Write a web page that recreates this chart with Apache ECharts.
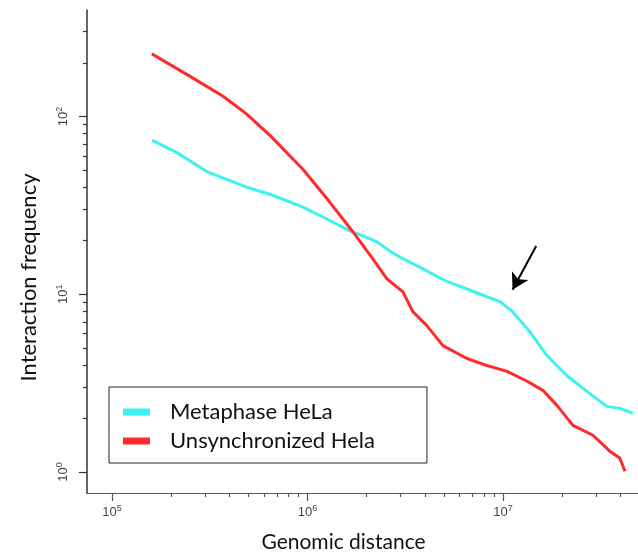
<!DOCTYPE html>
<html>
<head>
<meta charset="utf-8">
<script src="https://cdn.jsdelivr.net/npm/echarts@6/dist/echarts.min.js"></script>
<style>
html, body { margin: 0; padding: 0; background: #fff; }
#chart { width: 638px; height: 558px; }
</style>
</head>
<body>
<div id="chart"></div>
<script>
// values (genomic distance in bp, interaction frequency)
const metaDist = [1.60e5, 2.14e5, 3.10e5, 4.89e5, 6.43e5, 9.48e5, 1.20e6, 1.65e6, 1.92e6, 2.27e6,
    2.64e6, 2.97e6, 3.90e6, 5.17e6, 6.55e6, 8.29e6, 9.66e6, 1.12e7, 1.37e7, 1.68e7,
    2.12e7, 2.69e7, 3.40e7, 3.96e7, 4.62e7];
const metaFreq = [73.6, 62.8, 48.6, 40.0, 36.5, 30.9, 27.2, 22.7, 21.3, 19.7,
    17.5, 16.2, 13.9, 11.8, 10.7, 9.68, 9.08, 7.98, 6.17, 4.52,
    3.49, 2.84, 2.34, 2.28, 2.14];
const unsyncDist = [1.60e5, 2.51e5, 3.70e5, 4.89e5, 6.43e5, 9.48e5, 1.30e6, 1.71e6, 2.16e6, 2.55e6,
    3.08e6, 3.46e6, 4.08e6, 4.93e6, 6.55e6, 8.29e6, 1.05e7, 1.33e7, 1.60e7, 1.89e7,
    2.28e7, 2.89e7, 3.52e7, 3.96e7, 4.21e7];
const unsyncFreq = [225, 168, 130, 103, 78.3, 50.5, 33.0, 22.4, 15.8, 12.2,
    10.3, 7.98, 6.66, 5.14, 4.35, 3.97, 3.68, 3.24, 2.88, 2.37,
    1.83, 1.61, 1.31, 1.20, 1.01];

const xMajor = [1e5, 1e6, 1e7];
const xMinor = [2e5, 3e5, 4e5, 5e5, 6e5, 7e5, 8e5, 9e5,
    2e6, 3e6, 4e6, 5e6, 6e6, 7e6, 8e6, 9e6, 2e7, 3e7, 4e7];
const yMajor = [1, 10, 100];
const yMinor = [2, 3, 4, 5, 6, 7, 8, 9, 20, 30, 40, 50, 60, 70, 80, 90, 200, 300];

// arrow pointing at the shoulder of the metaphase curve
const arrowFrom = [1.48e7, 18.7];
const arrowTo = [1.12e7, 10.6];

const FONT = 'Lato, "Open Sans", sans-serif';
const X_MIN = 7.45e4, X_MAX = 4.91e7;
const Y_MIN = 0.762, Y_MAX = 397;

function pow10Label (v) {
    return '{b|10}{s|' + Math.round(Math.log10(v)) + '}';
}
const tickRich = {
    b: { fontSize: 13, color: '#444', fontFamily: 'Liberation Sans' },
    s: { fontSize: 9, color: '#444', fontFamily: 'Liberation Sans', verticalAlign: 'top', padding: [0, 0, 8, 0] }
};

const chart = echarts.init(document.getElementById('chart'));
const option = {
    animation: false,
    grid: { left: 87, right: 0, top: 10, bottom: 63, containLabel: false },
    legend: {
        left: 109,
        top: 387,
        orient: 'vertical',
        icon: 'rect',
        itemWidth: 27,
        itemHeight: 7,
        itemGap: 5,
        padding: [13, 52, 10, 14],
        borderColor: '#222',
        borderWidth: 1,
        textStyle: { fontSize: 22, color: '#111', fontFamily: FONT, lineHeight: 24, padding: [0, 0, 0, 15] },
        data: ['Metaphase HeLa', 'Unsynchronized Hela']
    },
    xAxis: [
        {
            type: 'log',
            min: X_MIN,
            max: X_MAX,
            position: 'bottom',
            name: 'Genomic distance',
            nameLocation: 'middle',
            nameGap: 39,
            nameTextStyle: { fontSize: 21, color: '#111', fontFamily: FONT, padding: [0, 38, 0, 0] },
            axisLine: { show: true, lineStyle: { color: '#555', width: 1.2 } },
            axisTick: { show: true, length: 8, customValues: xMajor, lineStyle: { color: '#555', width: 1.2 } },
            axisLabel: { show: true, margin: 11, customValues: xMajor, formatter: pow10Label, rich: tickRich },
            splitLine: { show: false }
        },
        {
            type: 'log',
            min: X_MIN,
            max: X_MAX,
            position: 'bottom',
            offset: 0,
            axisLine: { show: false },
            axisTick: { show: true, length: 4, customValues: xMinor, lineStyle: { color: '#555', width: 1.2 } },
            axisLabel: { show: false },
            splitLine: { show: false }
        }
    ],
    yAxis: [
        {
            type: 'log',
            min: Y_MIN,
            max: Y_MAX,
            position: 'left',
            name: 'Interaction frequency',
            nameLocation: 'middle',
            nameRotate: 90,
            nameGap: 47,
            nameTextStyle: { fontSize: 22, color: '#111', fontFamily: FONT, padding: [0, 52, 0, 0] },
            axisLine: { show: true, lineStyle: { color: '#333', width: 1.5 } },
            axisTick: { show: true, length: 8, customValues: yMajor, lineStyle: { color: '#333', width: 1.2 } },
            axisLabel: { show: true, rotate: 90, margin: 15, customValues: yMajor, formatter: pow10Label, rich: tickRich },
            splitLine: { show: false }
        },
        {
            type: 'log',
            min: Y_MIN,
            max: Y_MAX,
            position: 'left',
            offset: 0,
            axisLine: { show: false },
            axisTick: { show: true, length: 4, customValues: yMinor, lineStyle: { color: '#333', width: 1.2 } },
            axisLabel: { show: false },
            splitLine: { show: false }
        }
    ],
    series: [
        {
            name: 'Metaphase HeLa',
            type: 'line',
            symbol: 'none',
            color: '#3ef2f2',
            lineStyle: { width: 3, color: '#3ef2f2' },
            data: metaDist.map((d, i) => [d, metaFreq[i]])
        },
        {
            name: 'Unsynchronized Hela',
            type: 'line',
            symbol: 'none',
            color: '#ff2a2a',
            lineStyle: { width: 3, color: '#ff2a2a' },
            data: unsyncDist.map((d, i) => [d, unsyncFreq[i]]),
            markLine: {
                silent: true,
                symbol: ['none', 'arrow'],
                symbolSize: [14, 16],
                label: { show: false },
                lineStyle: { color: '#000', width: 2, type: 'solid' },
                data: [[{ coord: arrowFrom }, { coord: arrowTo }]]
            }
        }
    ]
};
chart.setOption(option);
</script>
</body>
</html>
